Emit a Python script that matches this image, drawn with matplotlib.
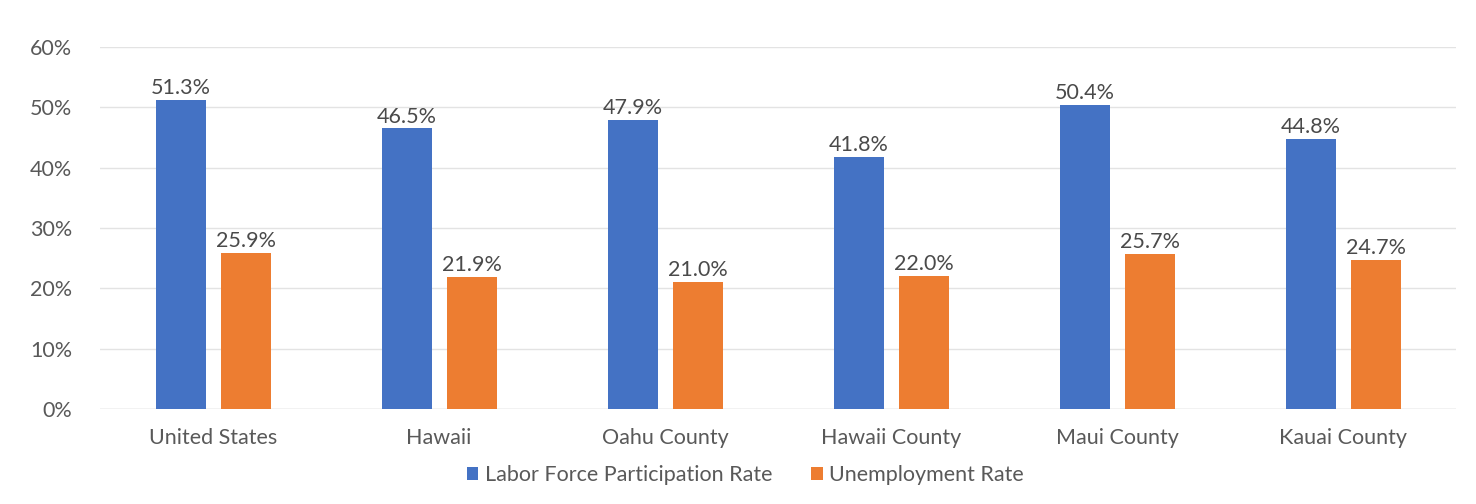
import matplotlib
matplotlib.use('Agg')
import matplotlib.pyplot as plt
import numpy as np
from matplotlib.ticker import PercentFormatter

# 数据
regions = ['United States', 'Hawaii', 'Oahu County', 'Hawaii County', 'Maui County', 'Kauai County']
labor_force = [51.3, 46.5, 47.9, 41.8, 50.4, 44.8]
unemployment = [25.9, 21.9, 21.0, 22.0, 25.7, 24.7]
y_ticks = [0, 10, 20, 30, 40, 50, 60]

plt.rcParams['font.family'] = ['Lato', 'DejaVu Sans']

fig = plt.figure(figsize=(14.76, 5.04), dpi=100)
ax = fig.add_axes([0.0678, 0.1885, 0.9187, 0.7182])

x = np.arange(len(regions))
w = 0.221
off = 0.144
b1 = ax.bar(x - off, labor_force, w, color='#4472C4', label='Labor Force Participation Rate', zorder=3)
b2 = ax.bar(x + off, unemployment, w, color='#ED7D31', label='Unemployment Rate', zorder=3)

for bars, vals in ((b1, labor_force), (b2, unemployment)):
    for b, v in zip(bars, vals):
        ax.text(b.get_x() + b.get_width() / 2, v + 0.3, f'{v:.1f}%', ha='center', va='bottom',
                fontsize=15.5, color='#4a4a4a')

ax.set_xlim(-0.5, len(regions) - 0.5)
ax.set_ylim(0, 60)
ax.set_yticks(y_ticks)
ax.yaxis.set_major_formatter(PercentFormatter(decimals=0))
ax.set_xticks(x)
ax.set_xticklabels(regions)
ax.tick_params(axis='both', length=0, labelsize=15.5, labelcolor='#595959')
ax.tick_params(axis='x', pad=14)
ax.tick_params(axis='y', pad=20)
ax.grid(axis='y', color='#e3e3e3', linewidth=1, zorder=0)
for s in ax.spines.values():
    s.set_visible(False)
ax.axhline(0, color='#d9d9d9', linewidth=1, zorder=2)

fig.legend(loc='center', bbox_to_anchor=(0.505, 0.058), ncol=2, frameon=False, fontsize=15.5,
           handlelength=0.55, handleheight=0.55, handletextpad=0.3, columnspacing=1.8,
           labelcolor='#595959')

fig.savefig('out.png', dpi=100)
